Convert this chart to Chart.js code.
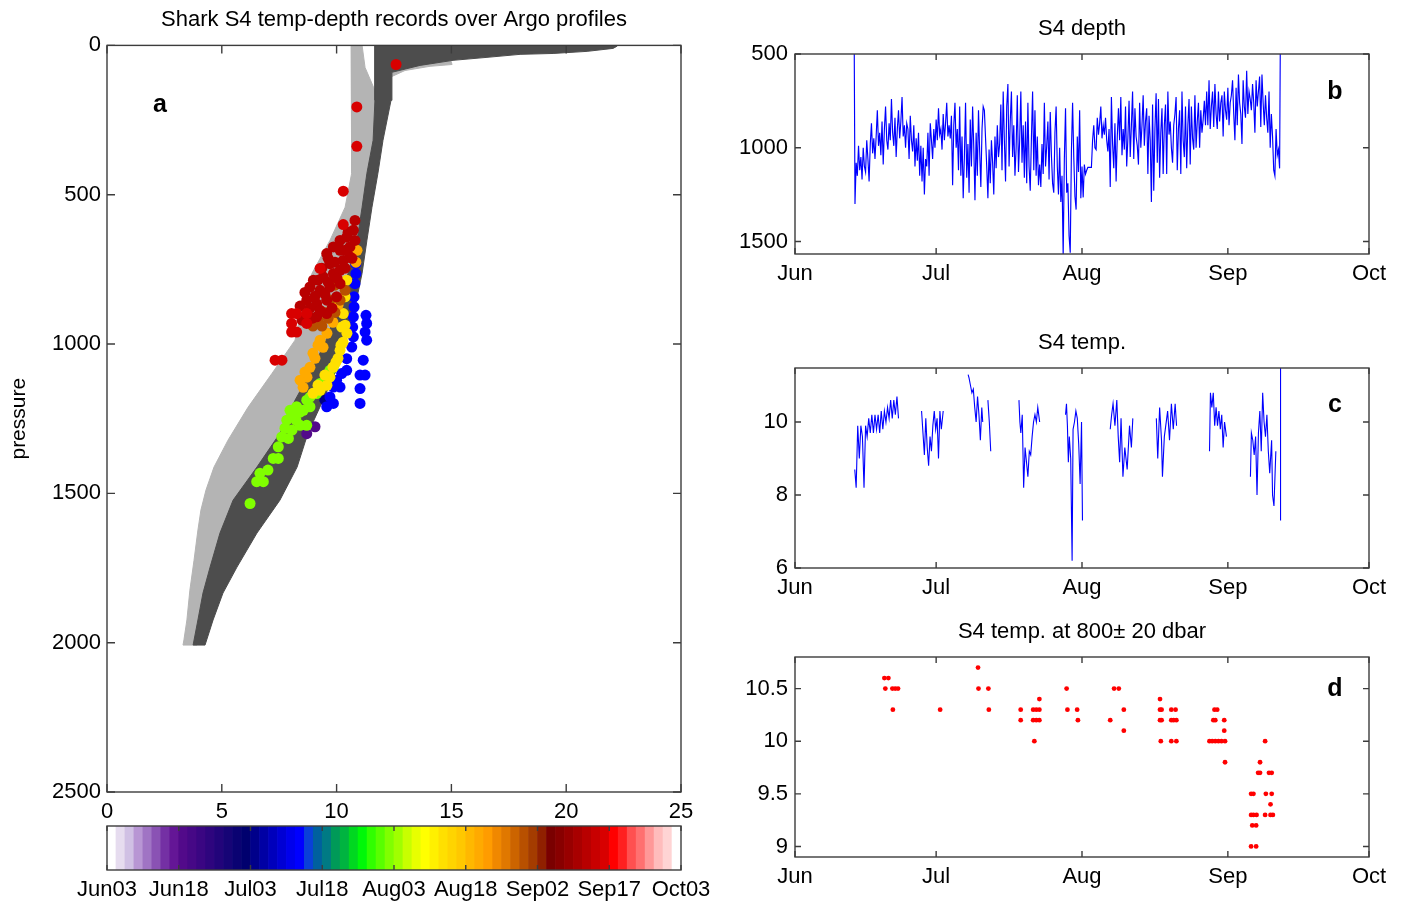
<!DOCTYPE html>
<html>
<head>
<meta charset="utf-8">
<script src="https://cdn.jsdelivr.net/npm/chart.js@4.4.1/dist/chart.umd.min.js"></script>
<style>
  body { margin: 0; background: #fff; width: 1405px; height: 903px; position: relative; overflow: hidden; }
  canvas { position: absolute; }
</style>
</head>
<body>
<canvas id="profiles" width="730" height="830" style="left:0;top:0"></canvas>
<canvas id="colorbar" width="730" height="88" style="left:0;top:815px"></canvas>
<canvas id="depth" width="705" height="290" style="left:700px;top:0"></canvas>
<canvas id="temp" width="705" height="290" style="left:700px;top:314px"></canvas>
<canvas id="temp800" width="705" height="290" style="left:700px;top:603px"></canvas>
<script>
// ---- Argo profile envelopes (temperature degC, pressure dbar), traced round each band
const argoLightTemp = [10.63,10.63,10.67,10.67,10.37,9.71,8.93,8.49,8.19,7.19,6.14,5.27,4.66,4.31,4.09,3.96,3.79,3.61,3.48,3.35,3.31,
  3.92,4.27,4.70,5.14,5.79,6.45,7.10,7.75,8.41,9.06,9.71,10.37,10.93,11.37,11.67,11.80,11.67,11.24,11.11];
const argoLightPres = [0,184,318,428,542,653,763,877,987,1098,1212,1322,1412,1489,1556,1623,1724,1824,1924,1991,2008,
  2008,1924,1824,1724,1623,1523,1422,1322,1222,1121,1021,887,753,586,419,251,151,74,0];
const argoLightSurfTemp = [12.41,14.94,15.03,14.07,12.98,12.41];
const argoLightSurfPres = [50,44,64,70,84,104];
const argoDarkTemp = [11.67,11.67,11.59,11.32,11.11,10.89,10.50,10.06,9.49,8.84,8.19,7.53,6.53,5.49,4.92,4.49,4.18,3.96,3.75,
  4.27,4.62,5.05,5.66,6.53,7.53,8.28,8.75,9.41,9.93,10.37,10.80,11.11,11.32,11.54,11.80,12.02,12.37,
  12.41,13.63,15.07,16.55,17.99,19.43,20.91,22.04,22.21,22.21];
const argoDarkPres = [0,184,318,428,542,653,763,877,997,1098,1188,1299,1412,1523,1633,1747,1834,1924,2008,
  2008,1924,1834,1747,1633,1523,1412,1299,1188,1098,997,877,763,653,542,428,318,184,
  90,67,50,40,30,27,20,10,3,0];

// ---- shark S4 temp-depth records (temp, pressure, days since Jun 1)
const sharkT = [8.70,9.06, 9.49,
  10.84,10.84,10.80,10.76,10.76,10.73,10.70,10.73,10.66,11.28,11.31,11.24,11.31,10.44,11.16,10.44,11.02,11.24,10.22,10.00,9.86,10.15,11.02,9.71,9.86,11.02,9.57,
  8.26,8.55,8.84,8.11,7.83,8.41,8.70,7.61,7.90,7.46,7.24,7.46,6.66,6.52,6.81,6.23,9.86,9.71,9.28,9.13,8.70,7.97,
  8.41,8.06,7.75,8.84,8.23,7.01,
  8.97,9.28,9.58,9.71,9.84,10.06,10.15,10.28,10.45,10.44,10.37,10.29,10.22,
  9.19,9.49,9.97,10.19,10.37,
  9.58,9.28,9.41,8.97,8.84,8.71,8.54,9.84,10.89,10.84,8.41,
  9.06,8.62,9.19,10.06,
  9.93,9.71,9.49,9.19,8.97,9.36,10.15,10.37,9.63,9.93,
  10.73,10.44,10.15,9.86,9.57,10.15,10.58,10.80,9.71,10.29,10.58,8.99,9.42,9.86,10.15,8.84,9.28,9.71,10.15,8.70,9.13,9.57,10.00,9.13,9.57,10.80,
  10.50,10.06,10.37,9.63,9.93,9.36,9.19,9.63,8.62,9.06,9.49,8.41,8.84,9.28,9.80,8.49,8.93,10.02,10.37,10.67,
  12.59,10.88,10.88,10.29,10.29,9.28,8.04,8.04,8.04,8.26,8.26,8.70,8.70,7.32,7.62];
const sharkP = [1300,1277, 1188,
  731,764,798,842,876,909,943,976,1010,904,931,960,987,1049,1054,1088,1104,1104,1099,1121,1144,1144,1149,1177,1199,1199,1210,
  1210,1222,1210,1244,1255,1272,1272,1311,1316,1344,1383,1383,1433,1461,1461,1534,1077,1088,1132,1166,1188,1222,
  1228,1288,1282,1178,1255,1422,
  1165,1155,1138,1111,1078,1048,1021,994,964,786,842,898,943,
  1138,1104,1061,1004,937,
  964,987,1011,1031,1078,1111,1145,927,686,726,1121,
  1048,1094,1004,870,
  803,853,894,920,940,940,853,820,914,894,
  619,642,653,675,697,686,675,653,731,720,708,786,775,764,753,809,820,809,798,853,865,853,842,909,898,586,
  626,673,686,713,726,746,786,793,827,840,833,873,880,887,880,920,914,780,746,713,
  64,206,338,488,600,747,898,931,960,960,898,898,931,1054,1054];
const sharkDay = [18,18, 33,
  43,43,43,43,43,43,43,43,43,43,43,43,43,43,43,43,43,43,43,43,43,43,43,43,43,43,43,
  62,62,62,62,62,62,62,62,62,62,62,62,62,62,62,62,62,62,62,62,62,62,
  62,62,62,62,62,62,
  73,73,73,73,73,73,73,73,73,73,73,73,73,
  73,73,73,73,73,
  81,81,81,81,81,81,81,81,81,81,81,
  81,81,81,81,
  91,91,91,91,91,91,91,91,91,91,
  104,104,104,104,104,104,104,104,104,104,104,104,104,104,104,104,104,104,104,104,104,104,104,104,104,104,
  104,104,104,104,104,104,104,104,104,104,104,104,104,104,104,104,104,104,104,104,
  108,108,108,108,108,108,108,108,108,108,108,108,108,108,108];

// ---- panel a axes
const tempTicks = [0, 5, 10, 15, 20, 25];
const presTicks = [0, 500, 1000, 1500, 2000, 2500];

// ---- colour bar (days since Jun 1)
const colorbarLabels = ['Jun03','Jun18','Jul03','Jul18','Aug03','Aug18','Sep02','Sep17','Oct03'];
const cbStartDay = 2, cbEndDay = 124;
const cmap = [
  '#ffffff','#e6dcef','#d0c0e4','#b896d4','#a074c4','#8a52b4','#7430a4','#641696',
  '#520a8a','#460886','#3a0682','#2e057e','#22047a','#160476','#0a0272','#00006e',
  '#00008a','#0000a4','#0000bc','#0000d4','#0000ec','#0000ff','#0a40d8','#00609e',
  '#007a84','#009a58','#00b440','#00d820','#00f808','#30ff00','#58ff00','#80ff00',
  '#a0ff00','#c8ff00','#e8ff00','#ffff00','#fff000','#ffe000','#ffd400','#ffc800',
  '#ffb800','#ffaa00','#ff9c00','#f08800','#e07800','#cc6400','#b85000','#a43c00',
  '#902000','#7a0000','#880000','#980000','#a80000','#b80000','#c80000','#d80000',
  '#ff0000','#ff2020','#ff5050','#ff7070','#ff9898','#ffbcbc','#ffd4d4','#ffffff'];

// ---- time axis of the right panels (days since Jun 1)
const monthDays = [0, 30, 61, 92, 122];
const monthNames = ['Jun', 'Jul', 'Aug', 'Sep', 'Oct'];
const depthTicks = [500, 1000, 1500];
const tempTicksC = [6, 8, 10];
const t800Ticks = [9, 9.5, 10, 10.5];

// ---- S4 depth, four readings a day from day 12.5
const depthStartDay = 12.5, depthStep = 0.25;
const depthValues = [0, 1300,
  1080,1150,990,1120, 1050,1170,1000,1100, 1130,960,1060,1180, 980,870,1030,950,
  1060,940,800,990, 920,1040,860,1090, 900,780,960,1010, 870,960,740,920,
  990,840,1050,900, 800,950,860,730, 940,880,1000,870, 900,1060,830,960,
  1020,880,1100,950, 1070,920,1150,990, 1180,1000,1250,1060, 1100,920,1150,870,
  960,1060,900,1000, 850,960,790,930, 900,1010,820,960, 870,760,940,880,
  950,830,1200,880, 760,1000,900,1120, 780,1150,940,1270, 1050,760,1160,980,
  1240,850,1100,780, 1000,1280,920,1150, 800,1020,1210,900, 780,800,950,1100,
  1270,1010,1190,960, 1080,1250,940,1110, 880,1050,980,770, 1120,700,960,1180,
  780,660,1100,860, 700,1050,880,1150, 1000,720,1130,960, 700,1080,880,1160,
  860,1190,760,1100, 1230,950,700,1120, 800,1150,940,1200, 1090,1210,980,1140,
  760,1100,990,860, 1170,810,1040,1190, 1240,920,780,1100, 1250,1000,1290,1150,
  1580,1060,790,1240, 1190,1470,1560,1020, 760,1050,1260,1330, 940,1130,800,1270,
  1100,1265,1090,1140, 1120,1105,1105,1105, 1105,960,880,1000, 1010,840,930,870,
  780,950,880,930, 840,960,1020,900, 1210,730,980,1110, 870,1180,940,790,
  960,730,1040,900, 1010,780,1100,950, 750,1050,880,700, 1060,790,940,990,
  1090,760,1000,880, 720,990,860,790, 1140,830,960,1290, 770,1230,900,710,
  1080,740,1160,920, 790,1140,880,770, 1140,700,930,860, 1000,1080,880,820,
  730,1120,900,800, 1140,700,960,1050, 780,1110,880,740, 1090,780,950,1010,
  720,1000,860,760, 1000,800,920,850, 750,880,700,880, 640,900,780,700,
  890,660,820,900, 700,860,760,720, 940,700,800,850, 680,880,760,720,
  640,820,960,680, 880,610,760,820, 980,640,780,840, 590,820,700,740,
  800,660,760,920, 640,780,700,620, 890,610,760,880, 720,840,920,700,
  1000,820,940,1120, 1150,900,1040,1010,
  1110, 0];

// ---- S4 temperature (null = no record)
const tempDays = [12.7,13.0,13.33,13.67,14.0,14.33,14.67,15.0,15.33,15.67,16.0,16.33,16.67,17.0,17.33,17.67,18.0,18.33,18.67,19.0,19.33,19.67,20.0,20.33,20.67,21.0,21.33,21.67,22.0,
  24,
  26.9,27.2,27.5,27.8,28.1,28.4,28.7,29.0,29.3,29.6,29.9,30.2,30.5,30.8,31.1,31.5,
  34,
  36.8,37.0,37.3,37.6,37.9,38.2,38.5,38.8,39.1,39.4,39.7,39.9,
  40.5,
  41.0,41.3,41.6,
  44,
  47.6,47.8,48.0,48.3,48.6,48.9,49.2,49.5,49.8,50.1,50.4,50.7,51.0,51.3,51.6,52.0,
  55,
  57.5,57.7,57.9,58.1,58.3,58.6,58.9,59.1,59.4,59.7,60.0,60.3,60.6,60.9,61.1,
  64,
  67.0,67.3,67.6,68.0,68.4,68.7,69.0,69.3,69.7,70.1,70.6,71.1,71.5,71.8,
  74,
  76.8,77.1,77.5,77.9,78.1,78.5,79.2,79.6,80.0,80.4,80.8,81.1,
  85,
  88.1,88.3,88.6,88.9,89.2,89.5,89.8,90.1,90.4,90.7,91.0,91.3,91.7,
  94,
  96.8,97.0,97.3,97.6,97.9,98.2,98.5,98.8,99.1,99.4,99.7,100.0,100.3,100.6,100.9,101.3,101.5,101.8,102.2,
  102.8,
  103.2,103.2];
const tempValues = [8.7,8.2,9.9,9.0,9.9,9.6,8.2,9.9,9.6,10.1,9.7,10.2,9.7,10.2,9.8,10.2,9.7,10.3,9.8,10.3,10.0,10.4,10.1,10.6,10.1,10.6,10.2,10.7,10.1,
  null,
  10.3,9.7,9.1,10.1,9.3,8.8,9.6,9.2,9.9,10.3,9.8,10.1,9.0,10.3,9.8,10.3,
  null,
  11.3,11.2,11.0,10.8,10.9,10.4,10.0,10.7,10.2,9.5,10.4,10.0,
  null,
  10.6,10.0,9.2,
  null,
  10.6,10.0,9.7,10.2,8.2,9.3,8.9,8.5,9.2,9.1,9.6,10.0,10.2,10.0,10.4,10.0,
  null,
  10.2,10.5,9.9,8.9,9.6,9.0,6.2,9.8,10.0,10.3,10.1,9.4,8.3,10.0,7.3,
  null,
  9.8,10.2,10.5,9.9,10.6,9.6,8.9,10.1,8.5,9.3,8.7,9.9,9.3,10.1,
  null,
  10.1,9.0,10.4,9.5,8.5,9.6,10.3,9.5,10.5,9.8,10.5,9.9,
  null,
  9.2,10.8,10.4,10.8,9.9,10.4,9.9,10.3,9.8,10.2,9.3,10.0,9.6,
  null,
  8.5,9.7,9.5,9.1,9.6,8.0,9.7,10.3,9.2,10.8,10.0,9.6,10.2,9.2,8.6,9.5,8.0,7.7,9.2,
  null,
  7.3,12.5];

// ---- S4 temp. at 800 +/- 20 dbar
const t800Days = [19.0,19.85,19.2,20.7,21.3,21.9,20.8, 30.85, 38.9,39.0,41.1,41.2,
  47.97,47.97,50.62,51.28,51.94,50.62,51.28,51.94,50.87,51.94,
  57.73,57.90,59.97,60.13, 67.0,67.82,68.82,69.89,69.89,
  77.58,77.58,77.92,77.58,77.92,77.75,79.98,80.89,79.98,80.48,81.06,79.98,81.06,
  89.16,89.74,88.92,89.33,88.09,88.67,89.33,90.0,90.65,91.4,91.23,91.23,91.4,
  96.94,97.44,96.94,97.44,98.1,97.19,98.01,96.94,98.01,98.43,98.84,98.84,99.92,100.08,99.92,100.74,101.32,101.32,101.07,101.07,101.57];
const t800Values = [10.6,10.6,10.5,10.5,10.5,10.5,10.3, 10.3, 10.7,10.5,10.5,10.3,
  10.3,10.2,10.3,10.3,10.3,10.2,10.2,10.2,10.0,10.4,
  10.5,10.3,10.3,10.2, 10.2,10.5,10.5,10.3,10.1,
  10.4,10.3,10.3,10.2,10.2,10.0,10.3,10.3,10.2,10.2,10.2,10.0,10.0,
  10.3,10.3,10.2,10.2,10.0,10.0,10.0,10.0,10.0,10.0,10.2,10.1,9.8,
  9.5,9.5,9.3,9.3,9.3,9.2,9.2,9.0,9.0,9.7,9.7,9.8,10.0,9.5,9.3,9.7,9.7,9.5,9.4,9.3,9.3];

const FONT = '"Liberation Sans", Arial, Helvetica, sans-serif';
Chart.defaults.font.family = FONT;
Chart.defaults.color = '#000';

function dayColor(day) {
  const i = Math.floor((day - cbStartDay) / (cbEndDay - cbStartDay) * cmap.length);
  return cmap[Math.max(0, Math.min(cmap.length - 1, i))];
}

// box with inward ticks on all sides, plus panel letter
const frameTicks = {
  id: 'frameTicks',
  afterDraw(chart, args, opts) {
    const {ctx, chartArea: a, scales} = chart;
    const len = opts.len;
    ctx.save();
    ctx.strokeStyle = '#3c3c3c';
    ctx.lineWidth = 1.4;
    ctx.beginPath();
    scales.x.ticks.forEach(t => {
      const px = scales.x.getPixelForValue(t.value);
      ctx.moveTo(px, a.bottom); ctx.lineTo(px, a.bottom - len);
      ctx.moveTo(px, a.top); ctx.lineTo(px, a.top + len);
    });
    if (opts.yTicks !== false) {
      scales.y.ticks.forEach(t => {
        const py = scales.y.getPixelForValue(t.value);
        ctx.moveTo(a.left, py); ctx.lineTo(a.left + len, py);
        ctx.moveTo(a.right, py); ctx.lineTo(a.right - len, py);
      });
    }
    ctx.stroke();
    ctx.strokeRect(a.left, a.top, a.right - a.left, a.bottom - a.top);
    if (opts.letter) {
      ctx.fillStyle = '#000';
      ctx.font = 'bold 25px ' + FONT;
      ctx.textAlign = 'center';
      ctx.textBaseline = 'middle';
      const lx = opts.lx >= 0 ? a.left + opts.lx : a.right + opts.lx;
      ctx.fillText(opts.letter, lx, a.top + opts.ly);
    }
    ctx.restore();
  }
};

function axis(extra) {
  return Object.assign({
    type: 'linear',
    grid: {display: false, drawTicks: false},
    border: {display: false}
  }, extra);
}
function fixedTicks(values) {
  return s => { s.ticks = values.map(v => ({value: v})); };
}
function tickFont(extra) {
  return Object.assign({font: {size: 22}, color: '#000', maxRotation: 0, autoSkip: false}, extra);
}
const base = {responsive: false, animation: false, events: []};
const noLegend = {legend: {display: false}, tooltip: {enabled: false}};

function pts(xs, ys) { return xs.map((x, i) => ({x: x, y: ys[i]})); }

// ---------- panel a
const sharkDots = sharkT.map((t, i) => ({x: t, y: sharkP[i], day: sharkDay[i]}))
  .sort((p, q) => p.day - q.day);

new Chart(document.getElementById('profiles'), {
  type: 'line',
  data: {
    datasets: [
      {data: sharkDots, showLine: false, pointRadius: 5.5, pointBorderWidth: 0,
        pointBackgroundColor: sharkDots.map(d => dayColor(d.day)), order: 0},
      {data: pts(argoDarkTemp, argoDarkPres), borderColor: '#4d4d4d', backgroundColor: '#4d4d4d',
        borderWidth: 1, fill: 'shape', pointRadius: 0, tension: 0, order: 1},
      {data: pts(argoLightSurfTemp, argoLightSurfPres), borderColor: '#b4b4b4', backgroundColor: '#b4b4b4',
        borderWidth: 1, fill: 'shape', pointRadius: 0, tension: 0, order: 2},
      {data: pts(argoLightTemp, argoLightPres), borderColor: '#b4b4b4', backgroundColor: '#b4b4b4',
        borderWidth: 1, fill: 'shape', pointRadius: 0, tension: 0, order: 3}
    ]
  },
  options: Object.assign({}, base, {
    layout: {padding: {left: 0, right: 49, top: 0, bottom: 0}},
    plugins: Object.assign({}, noLegend, {
      title: {display: true, fullSize: false, text: 'Shark S4 temp-depth records over Argo profiles',
        font: {size: 22, weight: 'normal'}, color: '#000', padding: {top: 7, bottom: 12}},
      frameTicks: {len: 8, letter: 'a', lx: 53, ly: 60}
    }),
    scales: {
      x: axis({min: 0, max: 25, afterBuildTicks: fixedTicks(tempTicks),
        ticks: tickFont({padding: 7, callback: v => String(v)}),
        afterFit: s => { s.height = 38; }}),
      y: axis({min: 0, max: 2500, reverse: true, afterBuildTicks: fixedTicks(presTicks),
        ticks: tickFont({padding: 6, callback: v => String(v)}),
        title: {display: true, text: 'pressure', font: {size: 21}, color: '#000', padding: {top: 7, bottom: 0}},
        afterFit: s => { s.width = 107; }})
    }
  }),
  plugins: [frameTicks]
});

// ---------- colour bar
const cbStep = cmap.length / (colorbarLabels.length - 1);
new Chart(document.getElementById('colorbar'), {
  type: 'bar',
  data: {
    datasets: [{data: cmap.map((c, i) => ({x: i + 0.5, y: 1})), backgroundColor: cmap,
      borderWidth: 0, barPercentage: 1, categoryPercentage: 1}]
  },
  options: Object.assign({}, base, {
    layout: {padding: {left: 107, right: 49, top: 11, bottom: 0}},
    plugins: Object.assign({}, noLegend, {frameTicks: {len: 5, yTicks: false}}),
    scales: {
      x: axis({min: 0, max: cmap.length, offset: false,
        afterBuildTicks: fixedTicks(colorbarLabels.map((l, i) => i * cbStep)),
        ticks: tickFont({padding: 7, callback: v => colorbarLabels[Math.round(v / cbStep)]}),
        afterFit: s => { s.height = 33; }}),
      y: {display: false, min: 0, max: 1}
    }
  }),
  plugins: [frameTicks]
});

// ---------- right panels
function timeAxis() {
  return axis({min: 0, max: 122, afterBuildTicks: fixedTicks(monthDays),
    ticks: tickFont({padding: 7, callback: v => monthNames[monthDays.indexOf(v)]}),
    afterFit: s => { s.height = 36; }});
}
function valueAxis(min, max, ticks, reverse) {
  return axis({min: min, max: max, reverse: !!reverse, afterBuildTicks: fixedTicks(ticks),
    ticks: tickFont({padding: 7, callback: v => String(v)}),
    afterFit: s => { s.width = 95; }});
}
function sideOptions(title, letter, ly, yAxis) {
  return Object.assign({}, base, {
    layout: {padding: {left: 0, right: 36, top: 0, bottom: 0}},
    plugins: Object.assign({}, noLegend, {
      title: {display: true, fullSize: false, text: title, font: {size: 22, weight: 'normal'}, color: '#000',
        padding: {top: 16, bottom: 11.6}},
      frameTicks: {len: 6, letter: letter, lx: -34, ly: ly}
    }),
    scales: {x: timeAxis(), y: yAxis}
  });
}

new Chart(document.getElementById('depth'), {
  type: 'line',
  data: {
    datasets: [{data: depthValues.map((v, i) => ({x: depthStartDay + i * depthStep, y: v})),
      borderColor: '#0000ff', borderWidth: 1.15, pointRadius: 0, tension: 0, fill: false}]
  },
  options: sideOptions('S4 depth', 'b', 38, valueAxis(500, 1567, depthTicks, true)),
  plugins: [frameTicks]
});

new Chart(document.getElementById('temp'), {
  type: 'line',
  data: {
    datasets: [{data: pts(tempDays, tempValues), borderColor: '#0000ff', borderWidth: 1.1,
      pointRadius: 0, tension: 0, fill: false, spanGaps: false}]
  },
  options: sideOptions('S4 temp.', 'c', 37, valueAxis(6, 11.48, tempTicksC)),
  plugins: [frameTicks]
});

new Chart(document.getElementById('temp800'), {
  type: 'scatter',
  data: {
    datasets: [{data: pts(t800Days, t800Values), backgroundColor: '#ff0000', borderWidth: 0,
      pointRadius: 2.4}]
  },
  options: sideOptions('S4 temp. at 800\u00b1 20 dbar', 'd', 32, valueAxis(8.9, 10.8, t800Ticks)),
  plugins: [frameTicks]
});
</script>
</body>
</html>
